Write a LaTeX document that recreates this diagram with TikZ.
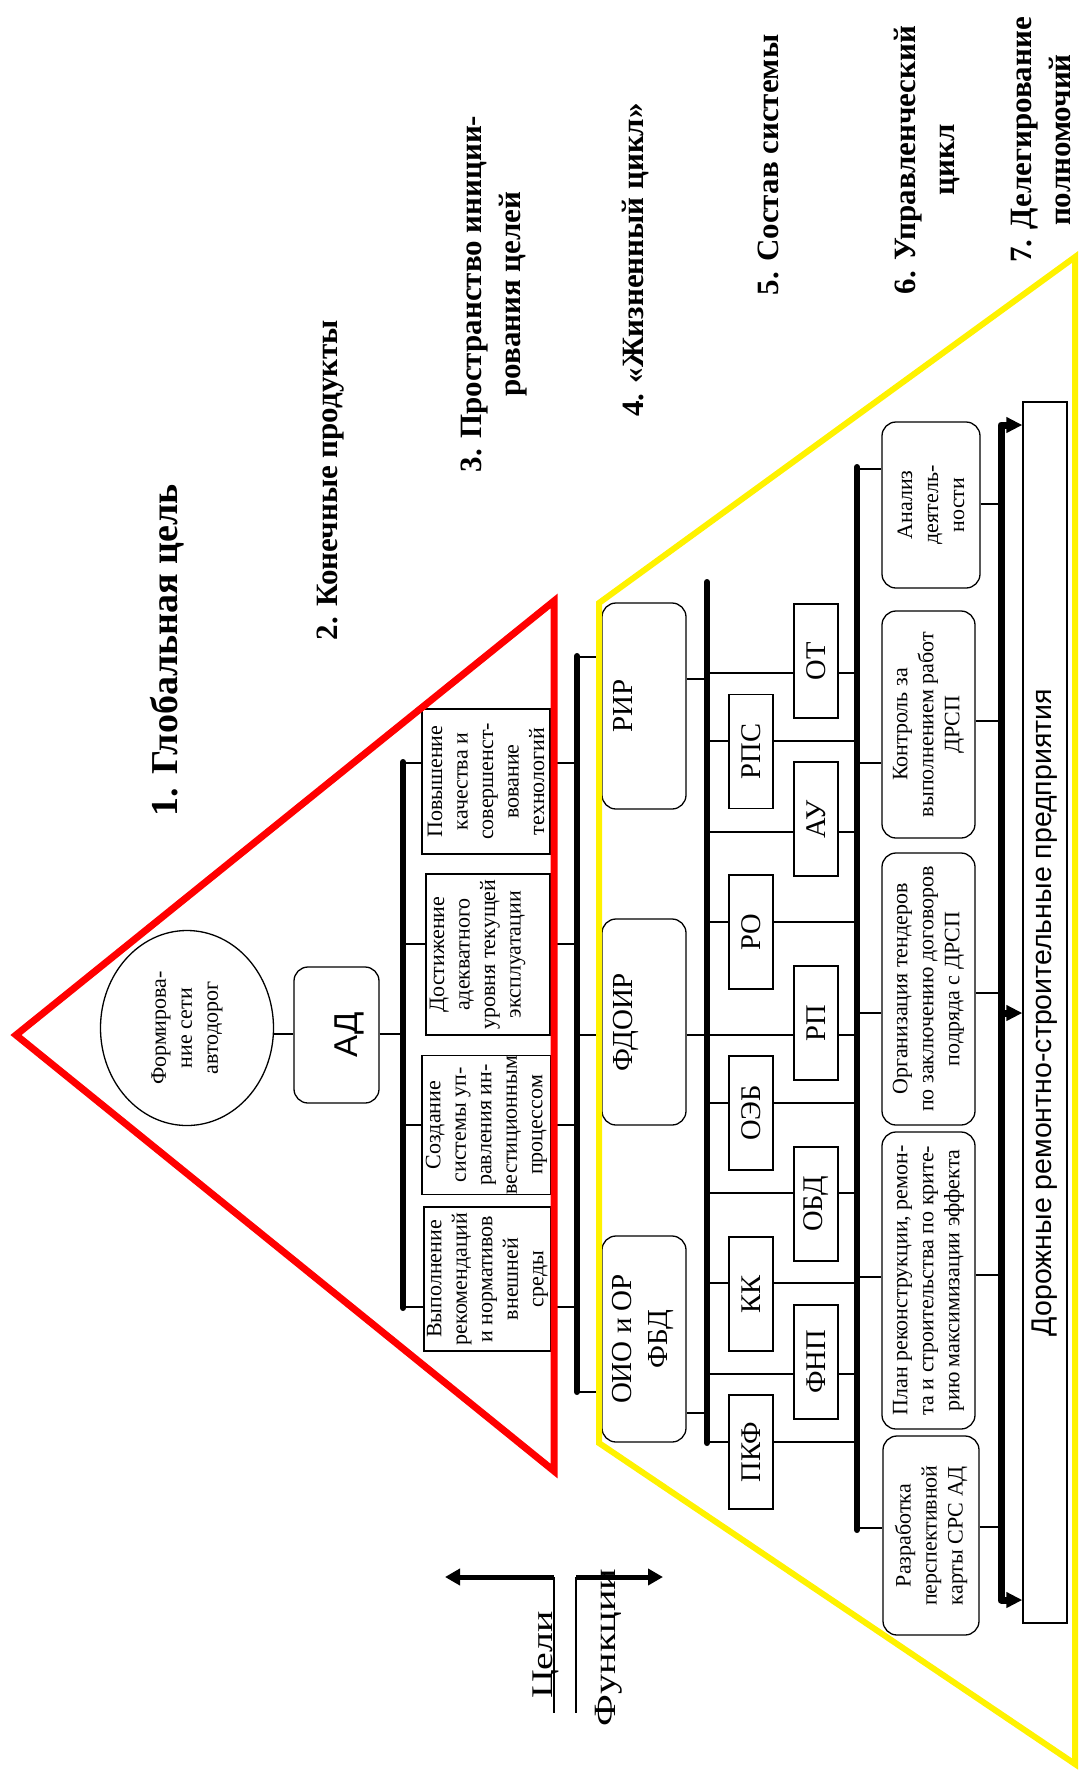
\documentclass[tikz,border=0pt]{standalone}
\usepackage{fontspec}
\usepackage{graphicx}
\setmainfont{Liberation Serif}
\newfontfamily\arialf{Liberation Sans}
\usetikzlibrary{shapes.geometric,arrows.meta}
\newcommand\fsz[2]{\fontsize{#1}{#2}\selectfont}
\newcommand\hcon[3]{\draw[ln] (#1 |- 0,#3) -- (#2 |- 0,#3);}
\begin{document}
\begin{tikzpicture}[x=1pt,y=-1pt,
  ln/.style={line width=1.3pt},
  bar/.style={line width=6pt,line cap=round},
  sq/.style={draw,line width=1.3pt,fill=white,rotate=90,inner sep=0pt,align=center},
  rd/.style={sq,rounded corners=14pt},
  gbox/.style={sq,font=\fsz{22}{25.5}},
  sm/.style={sq,minimum width=114,minimum height=44,font=\fsz{28.5}{34}},
  bt/.style={rd,font=\fsz{22}{26}},
  lv/.style={rd,minimum width=206,minimum height=84,font=\fsz{29}{36}},
  head/.style={rotate=90,align=center,font=\bfseries\fsz{31}{39}},
  tip/.style={-{Triangle[length=15pt,width=16pt]}},
]
\fill[white] (0,0) rectangle (1079,1778);
\useasboundingbox (0,0) rectangle (1079,1778);

% headings
\node[head,font=\bfseries\fsz{38}{44},anchor=base] (h1) at (177,650) {1. Глобальная цель};
\node[head,anchor=base] (h2) at (337,480) {2. Конечные продукты};
\node[head] (h3) at (494,294) {3. Пространство иниции-\\рования целей};
\node[head,anchor=base] (h4) at (643,260) {4. «Жизненный цикл»};
\node[head,anchor=base] (h5) at (778,165) {5. Состав системы};
\node[head] (h6) at (927,160) {6. Управленческий\\цикл};
\node[head] (h7) at (1041,140) {7. Делегирование\\полномочий};

% bar positions
\coordinate (B1) at (403,0);
\coordinate (B2) at (577,0);
\coordinate (B3) at (707,0);
\coordinate (B4) at (857,0);
\coordinate (B5) at (1001,0);

% lines from bar 3 to bar 4 (behind the small boxes)
\foreach \yy in {673,741,832,922,1035,1103,1193,1283,1374,1442}{\hcon{B3}{B4}{\yy}}

% level 1
\node[sq,ellipse,minimum width=195,minimum height=173,font=\fsz{22}{26}] (circ) at (187,1028) {Формирова-\\ние сети\\автодорог};
\node[rd,minimum width=136,minimum height=85,text height=63,text depth=22,font=\arialf\fsz{33}{40}] (ad) at (336.5,1035) {АД};

% goals
\node[gbox,minimum width=145,minimum height=128] (g1) at (486,781.5) {Повышение\\качества и\\совершенст-\\вование\\технологий};
\node[gbox,minimum width=161,minimum height=124] (g2) at (488,954.5) {Достижение\\адекватного\\уровня текущей\\эксплуатации\\\mbox{}};
\node[gbox,minimum width=136,minimum height=129] (g3) at (486.5,1125) {Создание\\системы уп-\\равления ин-\\вестиционным\\процессом};
\node[gbox,minimum width=144,minimum height=127] (g4) at (487.5,1279) {Выполнение\\рекомендаций\\и нормативов\\внешней\\среды};

% level 3
\node[lv,text height=30,text depth=54] (rir) at (644,706) {РИР};
\node[lv,text height=30,text depth=54] (fd) at (644,1022) {ФДОИР};
\node[lv] (oio) at (644,1339) {};
\node[rotate=90,align=center,font=\fsz{29}{36}] (oiot) at (643,1339) {ОИО и ОР\\ФБД};

% small boxes
\node[sm] (rps) at (751,751.5) {РПС};
\node[sm] (ro)  at (751,932) {РО};
\node[sm] (oeb) at (751,1113) {ОЭБ};
\node[sm] (kk)  at (751,1294) {КК};
\node[sm] (pkf) at (751,1452) {ПКФ};
\node[sm] (ot)  at (816,661) {ОТ};
\node[sm] (au)  at (816,819) {АУ};
\node[sm] (rp)  at (816,1023) {РП};
\node[sm] (obd) at (816,1204) {ОБД};
\node[sm] (fnp) at (816,1362) {ФНП};

% bottom boxes
\node[bt,minimum width=166,minimum height=98] (an) at (931,505) {Анализ\\деятель-\\ности};
\node[bt,minimum width=227,minimum height=93] (ko) at (928.5,724.5) {Контроль за\\выполнением работ\\ДРСП};
\node[bt,minimum width=272,minimum height=93] (org) at (928.5,989) {Организация тендеров\\по заключению договоров\\подряда с ДРСП};
\node[bt,minimum width=297,minimum height=93] (plan) at (928.5,1280.5) {План реконструкции, ремон-\\та и строительства по крите-\\рию максимизации эффекта};
\node[bt,minimum width=199,minimum height=96] (raz) at (931,1535.5) {Разработка\\перспективной\\карты СРС АД};

\node[sq,minimum width=1221,minimum height=44,font=\arialf\fsz{28.5}{34}] (dr) at (1045,1012.5) {Дорожные ремонтно-строительные предприятия};

% connectors
\hcon{circ.south}{ad.north}{1034}
\hcon{ad.south}{B1}{1034}
\hcon{B1}{g1.north}{763}  \hcon{g1.south}{B2}{763}
\hcon{B1}{g2.north}{944}  \hcon{g2.south}{B2}{944}
\hcon{B1}{g3.north}{1125} \hcon{g3.south}{B2}{1125}
\hcon{B1}{g4.north}{1307} \hcon{g4.south}{B2}{1307}
\hcon{B2}{rir.north}{657}
\hcon{B2}{fd.north}{1035}
\hcon{B2}{oio.north}{1392}
\hcon{rir.south}{B3}{679}
\hcon{fd.south}{B3}{1035}
\hcon{oio.south}{B3}{1413}
\hcon{B4}{an.north}{469}
\hcon{B4}{ko.north}{763}
\hcon{B4}{org.north}{1013}
\hcon{B4}{plan.north}{1277}
\hcon{B4}{raz.north}{1528}
\hcon{an.south}{B5}{504}
\hcon{ko.south}{B5}{721}
\hcon{org.south}{B5}{993}
\hcon{plan.south}{B5}{1275}
\hcon{raz.south}{B5}{1527}

% bars
\draw[bar] (B1 |- 0,762) -- (B1 |- 0,1308);
\draw[bar] (B2 |- 0,656) -- (B2 |- 0,1392);
\draw[bar] (B3 |- 0,582) -- (B3 |- 0,1443);
\draw[bar] (B4 |- 0,467) -- (B4 |- 0,1530);
\draw[line width=7pt,line join=round,{Triangle[length=16pt,width=15pt]}-{Triangle[length=16pt,width=15pt]}]
  (dr.north |- 0,425) -- (B5 |- 0,425) -- (B5 |- 0,1600) -- (dr.north |- 0,1600);
\draw[line width=7pt,-{Triangle[length=16pt,width=15pt]}] (B5 |- 0,1013) -- (dr.north |- 0,1013);

% goals / functions
\node[rotate=90,anchor=base,inner sep=0pt,font=\fsz{30}{36}] (celi) at (552,1655) {\scalebox{1.33}[1]{Цели}};
\node[rotate=90,anchor=base,inner sep=0pt,font=\fsz{31}{36}] (func) at (615,1647.5) {\scalebox{1.3}[1]{Функции}};
\coordinate (c0) at (554,1577); \coordinate (c1) at (554,1713); \coordinate (c2) at (445,1577);
\coordinate (f0) at (576,1577); \coordinate (f1) at (576,1713); \coordinate (f2) at (663,1577);
\draw[ln] (c0) -- (c1);
\draw[line width=5pt,tip] (c0) -- (c2);
\draw[ln] (f0) -- (f1);
\draw[line width=5pt,tip] (f0) -- (f2);

% triangles
\draw[red,line width=7pt] (16,1035) -- (554,601) -- (554,1471) -- cycle;
\draw[yellow,line width=6pt] (599,603) -- (1075,257) -- (1075,1764) -- (599,1443) -- cycle;
\end{tikzpicture}
\end{document}
